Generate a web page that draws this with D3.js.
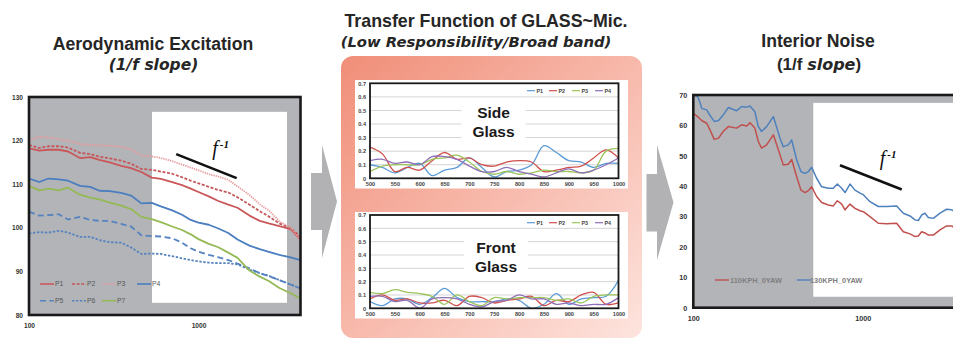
<!DOCTYPE html>
<html><head><meta charset="utf-8">
<script src="https://cdn.jsdelivr.net/npm/d3@7/dist/d3.min.js"></script>
<style>body{margin:0;background:#fff}svg{display:block}</style>
</head><body>
<svg id="c" width="953" height="344"></svg>
<script>
// ---------- DATA ----------
// Aerodynamic excitation (left)
const aeroFreq = [100,115,130,150,170,200,230,260,300,350,400,460,530,600,700,800,900,1000,1150,1300,1500,1700,2000,2300,2600,3000,3500,4000];
const aeroP1 = [118.2,117.7,117.9,117.9,117.5,116.0,116.2,115.6,115.0,114.2,113.7,112.8,111.5,111.2,110.5,109.8,109.0,108.2,107.2,106.2,105.3,104.6,102.8,101.6,101.0,100.4,99.7,97.3];
const aeroP2 = [119.0,118.3,118.7,118.7,118.4,117.2,116.9,116.3,115.9,115.4,114.7,113.5,113.3,112.9,112.4,111.6,110.8,110.2,109.4,108.7,108.1,107.0,105.3,103.8,102.6,101.0,99.9,98.0];
const aeroP3 = [120.1,120.9,120.7,120.3,120.0,119.2,119.0,118.9,118.8,118.6,118.0,116.6,116.4,116.0,115.3,114.5,113.8,113.2,112.3,111.8,111.0,109.5,107.5,105.4,104.0,101.5,100.0,97.2];
const aeroP4 = [111.3,110.5,111.3,111.1,110.8,109.6,109.4,108.5,108.4,108.0,107.4,105.6,105.7,104.9,104.0,103.0,101.8,101.2,100.7,99.9,98.8,97.3,95.9,95.1,94.5,93.8,93.2,92.6];
const aeroP5 = [103.7,102.8,102.9,103.1,101.9,102.5,101.8,101.6,101.6,100.9,100.3,98.3,98.1,98.0,97.6,96.6,95.3,94.5,93.8,93.3,92.6,91.8,90.7,89.6,88.9,88.0,87.0,86.1];
const aeroP6 = [98.7,99.0,98.9,99.3,98.9,97.9,97.9,97.2,96.7,96.6,95.5,94.0,94.1,94.0,93.5,93.0,92.6,92.3,92.0,91.9,91.9,91.6,90.4,89.6,89.0,88.0,87.0,86.1];
const aeroP7 = [109.6,108.6,109.0,108.6,109.2,107.6,106.9,106.5,105.8,105.1,104.3,102.5,102.0,101.3,100.3,99.5,98.5,97.4,96.3,95.6,94.3,93.1,90.2,88.8,87.8,86.2,85.0,83.8];
const aeroNames = ["P1","P2","P3","P4","P5","P6","P7"];
const aeroYTicks = [80,90,100,110,120,130];
const aeroXTicks = [100,1000];
const aeroDomainX = [100,4000];
const aeroDomainY = [80,130];
const aeroBandX = [532,3330];
const aeroBandY = [82.8,126.6];
const aeroSlopeF = [739,1680];
const aeroSlopeV = [116.9,111.4];
const aeroSlopeLabel = [1205,116.8];

// Transfer functions (middle)
const glassFreq = [500,525,550,575,600,625,650,675,700,725,750,775,800,825,850,875,900,925,950,975,1000];
const sideP1 = [0.10,0.08,0.04,0.08,0.11,0.02,0.06,0.08,0.15,0.08,0.01,0.05,0.06,0.10,0.24,0.19,0.13,0.12,0.08,0.11,0.11];
const sideP2 = [0.23,0.18,0.05,0.08,0.06,0.13,0.19,0.14,0.15,0.10,0.09,0.12,0.13,0.12,0.05,0.06,0.08,0.09,0.15,0.21,0.15];
const sideP3 = [0.05,0.09,0.10,0.10,0.10,0.14,0.15,0.17,0.12,0.05,0.03,0.05,0.03,0.04,0.06,0.05,0.05,0.04,0.06,0.20,0.22];
const sideP4 = [0.13,0.14,0.11,0.12,0.10,0.16,0.16,0.14,0.09,0.05,0.05,0.08,0.05,0.03,0.01,0.04,0.07,0.04,0.06,0.10,0.15];
const frontP1 = [0.05,0.02,0.07,0.07,0.03,0.08,0.15,0.08,0.05,0.05,0.05,0.07,0.06,0.00,0.03,0.11,0.03,0.07,0.08,0.09,0.21];
const frontP2 = [0.07,0.10,0.06,0.07,0.04,0.04,0.06,0.02,0.09,0.08,0.04,0.06,0.07,0.09,0.02,0.06,0.05,0.10,0.12,0.03,0.04];
const frontP3 = [0.12,0.11,0.14,0.12,0.11,0.09,0.03,0.10,0.05,0.02,0.08,0.07,0.08,0.08,0.08,0.06,0.07,0.04,0.09,0.10,0.10];
const frontP4 = [0.09,0.09,0.05,0.06,0.00,0.07,0.08,0.07,0.03,0.01,0.05,0.06,0.10,0.07,0.07,0.03,0.04,0.02,0.03,0.03,0.08];
const glassNames = ["P1","P2","P3","P4"];
const glassYTicks = [0,0.1,0.2,0.3,0.4,0.5,0.6,0.7];
const glassXTicks = [500,550,600,650,700,750,800,850,900,950,1000];

// Interior noise (right)
const noiseFreq = [100,106,110,112,120,125,133,141,150,161,180,193,207,216,231,242,253,271,297,325,340,364,381,408,432,457,478,500,535,573,627,671,709,752,787,842,901,965,1009,1105,1237,1386,1588,1739,1904,2038,2132,2231,2334,2442,2615,2862,3134,3355,3510,3800];
const noise130 = [70,69.5,67.3,65.6,65.1,63.4,61.3,61.6,63.4,65.9,64.8,66.2,66,66.4,64.5,59.6,58,59.6,62.9,55.8,53,53.6,55.2,48.6,44.8,44.2,44.8,46.2,42.6,39.8,39.3,39.3,40.7,39.3,37.9,40.7,38.7,37.7,37.2,34.9,33.3,33.3,33.5,31.1,30.2,28.9,28.7,30.5,31.1,29.7,29.4,31.1,32.4,32.2,31.6,31.2];
const noise110 = [64,62.9,62,61.6,60.7,58.7,55.4,55.8,58,59.6,59.1,60.2,59.8,60.9,59.1,54.7,52.5,53.6,56.9,50.3,47,47.2,48.8,43.1,38.7,37.9,38.5,39.8,36.6,34.6,33.8,33.5,35.2,34.1,32.2,34.1,32.7,31.9,31.6,30,27.8,27.6,27.8,25,24.3,23.4,23.6,25,24.6,23.9,23.9,25.6,26.9,26.9,26.1,25.6];
const noiseNames = ["110KPH_0YAW","130KPH_0YAW"];
const noiseYTicks = [0,10,20,30,40,50,60,70];
const noiseXTicks = [100,1000];
const noiseDomainX = [100,4000];
const noiseDomainY = [0,70];
const noiseBandX = [511,3800];
const noiseBandY = [3.6,67.4];
const noiseSlopeF = [735,1702];
const noiseSlopeV = [46.9,38.9];
const noiseSlopeLabel = [1262,47.0];

// ---------- DRAW ----------
const svg = d3.select('#c');
const defs = svg.append('defs');
const SANS = "'Liberation Sans', Arial, sans-serif";
const DJV = "'DejaVu Sans', Verdana, sans-serif";

// Titles
svg.append('text').attr('x',153).attr('y',50).attr('text-anchor','middle')
  .style('font',`bold 17.6px ${SANS}`).attr('fill','#262626').text('Aerodynamic Excitation');
svg.append('text').attr('x',153.5).attr('y',69.5).attr('text-anchor','middle')
  .style('font',`italic bold 15.5px ${DJV}`).attr('fill','#262626').text('(1/f slope)');
svg.append('text').attr('x',486).attr('y',27).attr('text-anchor','middle')
  .style('font',`bold 17.8px ${SANS}`).attr('fill','#262626').text('Transfer Function of GLASS~Mic.');
svg.append('text').attr('x',476).attr('y',47).attr('text-anchor','middle')
  .style('font',`italic bold 14.8px ${DJV}`).attr('fill','#262626').text('(Low Responsibility/Broad band)');
svg.append('text').attr('x',818).attr('y',47).attr('text-anchor','middle')
  .style('font',`bold 17.6px ${SANS}`).attr('fill','#262626').text('Interior Noise');
const st = svg.append('text').attr('x',819).attr('y',70).attr('text-anchor','middle')
  .style('font',`bold 17px ${SANS}`).attr('fill','#262626');
st.append('tspan').text('(1/f ');
st.append('tspan').style('font-style','italic').style('font-family',DJV).style('font-size','16px').text('slope');
st.append('tspan').text(')');

// Middle panel with gradient
const grad = defs.append('linearGradient').attr('id','pg').attr('x1','0').attr('y1','0').attr('x2','1').attr('y2','1');
grad.append('stop').attr('offset','0').attr('stop-color','#f08e78');
grad.append('stop').attr('offset','0.55').attr('stop-color','#f8bdb0');
grad.append('stop').attr('offset','1').attr('stop-color','#fde4de');
svg.append('rect').attr('x',341).attr('y',56).attr('width',301).attr('height',282).attr('rx',12)
  .attr('fill','url(#pg)');

// Arrows
const arrowColor = '#b2b2b5';
svg.append('polygon').attr('points','311,173 322,173 322,145 337,201.5 322,258 322,230 311,230').attr('fill',arrowColor);
svg.append('polygon').attr('points','646.5,174 657,174 657,145 673.5,202.5 657,260 657,231.5 646.5,231.5').attr('fill',arrowColor);

// ---- generic log chart ----
function logChart(o){
  const x = d3.scaleLog().domain(o.domX).range(o.rangeX);
  const y = d3.scaleLinear().domain(o.domY).range(o.rangeY);
  const g = svg.append('g');
  const cid = 'clip'+o.id;
  defs.append('clipPath').attr('id',cid).append('rect')
    .attr('x',x(o.domX[0])).attr('y',y(o.domY[1])).attr('width',x(o.domX[1])-x(o.domX[0])).attr('height',y(o.domY[0])-y(o.domY[1]));
  g.append('rect').attr('x',x(o.domX[0])).attr('y',y(o.domY[1]))
    .attr('width',x(o.domX[1])-x(o.domX[0])).attr('height',y(o.domY[0])-y(o.domY[1]))
    .attr('fill','#b3b4b8');
  g.append('rect').attr('x',x(o.bandX[0])).attr('y',y(o.bandY[1]))
    .attr('width',x(o.bandX[1])-x(o.bandX[0])).attr('height',y(o.bandY[0])-y(o.bandY[1]))
    .attr('fill','#ffffff');
  const line = d3.line().x((d,i)=>x(o.freq[i])).y(d=>y(d));
  const lg = g.append('g').attr('clip-path',`url(#${cid})`);
  o.series.forEach(s=>{
    lg.append('path').attr('d',line(s.values)).attr('fill','none').attr('stroke',s.color)
      .attr('stroke-width',s.width||1.8).attr('stroke-dasharray',s.dash||null).attr('stroke-linejoin','round');
  });
  g.append('rect').attr('x',x(o.domX[0])).attr('y',y(o.domY[1]))
    .attr('width',x(o.domX[1])-x(o.domX[0])).attr('height',y(o.domY[0])-y(o.domY[1]))
    .attr('fill','none').attr('stroke','#1a1a1a').attr('stroke-width',2.6);
  // axes
  const ya = g.append('g').attr('transform',`translate(${x(o.domX[0])-4},0)`)
    .call(d3.axisLeft(y).tickValues(o.yTicks).tickSize(0).tickPadding(2));
  ya.select('.domain').remove();
  ya.selectAll('text').style('font',`bold ${o.tickFont}px ${SANS}`).attr('fill','#333');
  const xa = g.append('g').attr('transform',`translate(0,${y(o.domY[0])+o.xLabGap})`)
    .call(d3.axisBottom(x).tickValues(o.xTicks).tickFormat(d3.format('d')).tickSize(0).tickPadding(2));
  xa.select('.domain').remove();
  xa.selectAll('text').style('font',`bold ${o.tickFont}px ${SANS}`).attr('fill','#333');
  // slope annotation
  g.append('line').attr('x1',x(o.slopeF[0])).attr('y1',y(o.slopeV[0])).attr('x2',x(o.slopeF[1])).attr('y2',y(o.slopeV[1]))
    .attr('stroke','#111').attr('stroke-width',2.6);
  const t = g.append('text').attr('x',x(o.slopeLabel[0])).attr('y',y(o.slopeLabel[1]))
    .style('font',"italic 20px 'Liberation Serif', 'Times New Roman', serif").attr('fill','#111');
  t.append('tspan').text('f');
  t.append('tspan').attr('dy',-7).attr('dx',2).style('font-size','11px').style('font-weight','bold').text('-1');
  return {x,y,g};
}

// Left chart
const aeroStyles = [
  {color:'#c9575a'},{color:'#c6575a',dash:'3,1.6'},{color:'#e69a9c',dash:'1.3,1'},{color:'#4a7ebf'},
  {color:'#5583c0',dash:'6,3.5'},{color:'#5583c0',dash:'2.4,1.6'},{color:'#94b955'}];
const aeroSeries = [aeroP1,aeroP2,aeroP3,aeroP4,aeroP5,aeroP6,aeroP7];
const L = logChart({id:'L', freq:aeroFreq, domX:aeroDomainX, domY:aeroDomainY, rangeX:[29,300.5], rangeY:[315,97],
  bandX:aeroBandX, bandY:aeroBandY, yTicks:aeroYTicks, xTicks:aeroXTicks, tickFont:6.6, xLabGap:6,
  slopeF:aeroSlopeF, slopeV:aeroSlopeV, slopeLabel:aeroSlopeLabel,
  series: aeroSeries.map((v,i)=>({values:v,color:aeroStyles[i].color,dash:aeroStyles[i].dash}))});
// Left legend
const aeroLegPos = [[40,284],[72,284],[102,284],[137,284],[40,300.7],[72,300.7],[102,300.7]];
aeroNames.forEach((n,i)=>{
  const [lx,ly] = aeroLegPos[i];
  svg.append('line').attr('x1',lx).attr('x2',lx+14).attr('y1',ly).attr('y2',ly)
    .attr('stroke',aeroStyles[i].color).attr('stroke-width',1.6).attr('stroke-dasharray',aeroStyles[i].dash||null);
  svg.append('text').attr('x',lx+15).attr('y',ly+2.4).style('font',`6.8px ${SANS}`).attr('fill','#555').text(n);
});

// Right chart
const R = logChart({id:'R', freq:noiseFreq, domX:noiseDomainX, domY:noiseDomainY, rangeX:[693.3,964.6], rangeY:[307.7,95],
  bandX:noiseBandX, bandY:noiseBandY, yTicks:noiseYTicks, xTicks:noiseXTicks, tickFont:7.2, xLabGap:6,
  slopeF:noiseSlopeF, slopeV:noiseSlopeV, slopeLabel:noiseSlopeLabel,
  series:[
    {values:noise110,color:'#c0504d',width:1.5},
    {values:noise130,color:'#4f81bd',width:1.5}
  ]});
const noiseLeg = [{x:715,color:'#c0504d'},{x:797,color:'#4f81bd'}];
noiseNames.forEach((n,i)=>{
  svg.append('line').attr('x1',noiseLeg[i].x).attr('x2',noiseLeg[i].x+14).attr('y1',280).attr('y2',280)
    .attr('stroke',noiseLeg[i].color).attr('stroke-width',1.4);
  svg.append('text').attr('x',noiseLeg[i].x+ (i===0?15:13)).attr('y',282.6).style('font',`bold 7.4px ${SANS}`).attr('fill','#7f7f7f').text(n);
});

// Middle charts
const glassColors = ['#5b9bd5','#d0504d','#9bc55a','#8e6fb8'];
function glassChart(o){
  const x = d3.scaleLinear().domain([500,1000]).range([370,618.5]);
  const y = d3.scaleLinear().domain([0,0.7]).range(o.rangeY);
  const g = svg.append('g');
  g.append('rect').attr('x',355).attr('y',o.bg[0]).attr('width',273).attr('height',o.bg[1]-o.bg[0]).attr('fill','#fff');
  g.selectAll('line.grid').data(glassYTicks.slice(1,-1)).join('line')
    .attr('x1',x(500)).attr('x2',x(1000)).attr('y1',d=>y(d)).attr('y2',d=>y(d))
    .attr('stroke','#d4d4d4').attr('stroke-width',1);
  const lab = g.append('g');
  lab.append('text').attr('x',o.labX).attr('y',o.labY[0]).attr('text-anchor','middle')
    .style('font',`bold 15.5px ${SANS}`).attr('fill','#1a1a1a').text(o.label[0]);
  lab.append('text').attr('x',o.labX).attr('y',o.labY[1]).attr('text-anchor','middle')
    .style('font',`bold 15.5px ${SANS}`).attr('fill','#1a1a1a').text(o.label[1]);
  const b = lab.node().getBBox();
  lab.insert('rect','text').attr('x',b.x-o.pad).attr('y',b.y-4).attr('width',b.width+2*o.pad).attr('height',b.height+8).attr('fill','#fff');
  const cid='clip'+o.id;
  defs.append('clipPath').attr('id',cid).append('rect').attr('x',x(500)).attr('y',y(0.7)).attr('width',x(1000)-x(500)).attr('height',y(0)-y(0.7)+1);
  const line = d3.line().x((d,i)=>x(glassFreq[i])).y(d=>y(d)).curve(d3.curveCatmullRom.alpha(0.5));
  const lg = g.append('g').attr('clip-path',`url(#${cid})`);
  o.series.forEach((s,i)=>{
    lg.append('path').attr('d',line(s)).attr('fill','none').attr('stroke',glassColors[i]).attr('stroke-width',1.3);
  });
  g.append('rect').attr('x',x(500)).attr('y',y(0.7)).attr('width',x(1000)-x(500)).attr('height',y(0)-y(0.7))
    .attr('fill','none').attr('stroke','#1a1a1a').attr('stroke-width',1.8);
  const ya = g.append('g').attr('transform',`translate(${x(500)-3},0)`)
    .call(d3.axisLeft(y).tickValues(glassYTicks).tickFormat(d=>d===0?'0':d3.format('.1f')(d)).tickSize(0).tickPadding(1));
  ya.select('.domain').remove();
  ya.selectAll('text').style('font',`bold 5.6px ${SANS}`).attr('fill','#444');
  const xa = g.append('g').attr('transform',`translate(0,${y(0)+3})`)
    .call(d3.axisBottom(x).tickValues(glassXTicks).tickFormat(d3.format('d')).tickSize(0).tickPadding(1));
  xa.select('.domain').remove();
  xa.selectAll('text').style('font',`bold 5.6px ${SANS}`).attr('fill','#444');
  const lx = [527,549,572,595];
  glassNames.forEach((n,i)=>{
    g.append('line').attr('x1',lx[i]).attr('x2',lx[i]+8).attr('y1',o.legY).attr('y2',o.legY).attr('stroke',glassColors[i]).attr('stroke-width',1.2);
    g.append('text').attr('x',lx[i]+9.5).attr('y',o.legY+1.9).style('font',`bold 5.4px ${SANS}`).attr('fill','#444').text(n);
  });
}
glassChart({id:'S', series:[sideP1,sideP2,sideP3,sideP4], rangeY:[178.3,83.3], bg:[80,188.5], label:['Side','Glass'], labX:493.5, labY:[118,136.5], pad:11, legY:90.7});
glassChart({id:'F', series:[frontP1,frontP2,frontP3,frontP4], rangeY:[308.3,215], bg:[212,318.5], label:['Front','Glass'], labX:496, labY:[253,271.5], pad:11, legY:222.7});
</script>
</body></html>
